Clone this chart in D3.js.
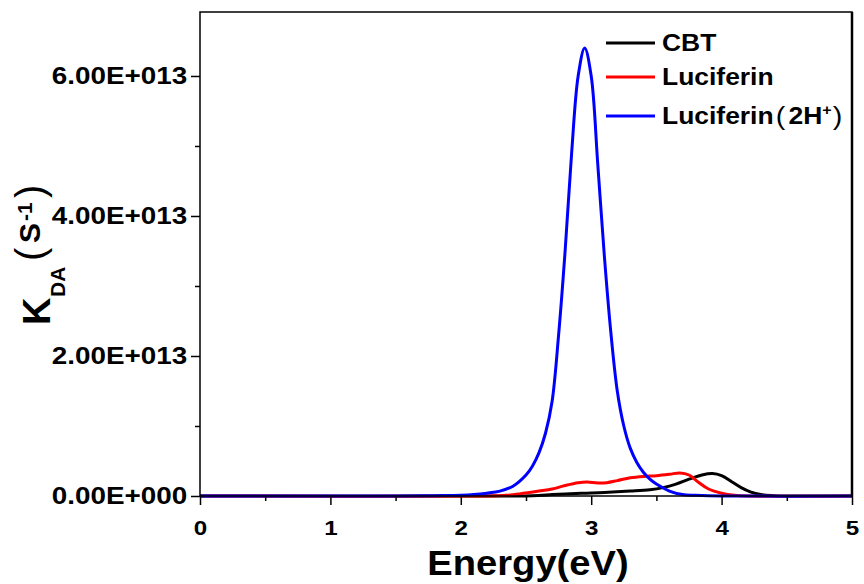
<!DOCTYPE html>
<html>
<head>
<meta charset="utf-8">
<script src="https://cdn.jsdelivr.net/npm/d3@7"></script>
<style>
  html, body { margin: 0; padding: 0; background: #fff; }
  svg { display: block; }
  text { font-family: "Liberation Sans", Arial, sans-serif; font-weight: bold; fill: #000; }
  .paren { font-weight: normal; }
</style>
</head>
<body>
<svg id="chart" width="864" height="584"></svg>
<script>
// Energy (eV) and transfer rate K_DA in units of 1e13 s^-1
const cbtE = [0, 2.4, 2.55, 2.7, 2.8, 2.94, 3.1, 3.3, 3.45, 3.55, 3.65, 3.75, 3.85, 3.93, 4.0, 4.08, 4.15, 4.22, 4.3, 4.4, 4.5, 5];
const cbtK = [0, 0, 0.005, 0.02, 0.03, 0.04, 0.05, 0.07, 0.09, 0.12, 0.17, 0.24, 0.3, 0.32, 0.29, 0.2, 0.12, 0.06, 0.02, 0.005, 0, 0];

const lucE = [0, 2.2, 2.35, 2.45, 2.6, 2.7, 2.8, 2.9, 2.97, 3.05, 3.12, 3.2, 3.3, 3.4, 3.5, 3.6, 3.68, 3.75, 3.82, 3.9, 4.0, 4.1, 4.2, 5];
const lucK = [0, 0, 0.01, 0.03, 0.07, 0.1, 0.15, 0.19, 0.2, 0.185, 0.19, 0.22, 0.26, 0.28, 0.29, 0.31, 0.33, 0.3, 0.2, 0.1, 0.04, 0.01, 0, 0];

const luc2hE = [0, 1.5, 1.8, 2.0, 2.1, 2.2, 2.3, 2.4, 2.5, 2.55, 2.6, 2.65, 2.7, 2.75, 2.8, 2.85, 2.9, 2.95, 3.0, 3.05, 3.1, 3.15, 3.2, 3.25, 3.3, 3.35, 3.4, 3.45, 3.5, 3.6, 3.7, 3.8, 4.0, 5];
const luc2hK = [0, 0, 0.005, 0.01, 0.02, 0.04, 0.07, 0.14, 0.3, 0.43, 0.62, 0.9, 1.35, 2.3, 3.5, 4.9, 6.0, 6.4, 6.0, 4.75, 3.45, 2.35, 1.5, 1.0, 0.68, 0.48, 0.34, 0.24, 0.17, 0.07, 0.02, 0.01, 0, 0];

const seriesNames = ["CBT", "Luciferin", "Luciferin (2H⁺)"];
const seriesColors = ["#000000", "#ff0000", "#0000ff"];

const xTicks = [0, 1, 2, 3, 4, 5];
const xMinorTicks = [0.5, 1.5, 2.5, 3.5, 4.5];
const yTicks = [0, 2, 4, 6];
const yMinorTicks = [1, 3, 5];
const yTickLabels = ["0.00E+000", "2.00E+013", "4.00E+013", "6.00E+013"];

const svg = d3.select("#chart");
const plotL = 200, plotR = 852, plotT = 12, plotB = 496;
const wide = 1.15; // horizontal stretch of the lettering

const x = d3.scaleLinear().domain([0, 5]).range([plotL, plotR]);
const y = d3.scaleLinear().domain([0, 6.914]).range([plotB, plotT]);

// Curves
const line = d3.line().x(d => x(d[0])).y(d => y(d[1])).curve(d3.curveCatmullRom.alpha(0.5));
const series = [
  d3.zip(cbtE, cbtK),
  d3.zip(lucE, lucK),
  d3.zip(luc2hE, luc2hK)
];
const plot = svg.append("g");
series.forEach((s, i) => {
  plot.append("path")
    .datum(s)
    .attr("d", line)
    .attr("fill", "none")
    .attr("stroke", seriesColors[i])
    .attr("stroke-width", 3)
    .attr("stroke-linejoin", "round");
});

// Frame
svg.append("rect")
  .attr("x", plotL).attr("y", plotT)
  .attr("width", plotR - plotL).attr("height", plotB - plotT)
  .attr("fill", "none").attr("stroke", "#000").attr("stroke-width", 1.5);
svg.append("line")
  .attr("x1", plotR).attr("x2", plotR).attr("y1", plotT).attr("y2", plotB)
  .attr("stroke", "#000").attr("stroke-width", 2.5);

// X axis
const xAxis = d3.axisBottom(x).tickValues(xTicks).tickSize(9).tickPadding(15).tickFormat(d3.format("d"));
const gx = svg.append("g").attr("transform", `translate(0,${plotB})`).call(xAxis);
gx.select(".domain").remove();
gx.selectAll(".tick line").attr("stroke-width", 1.5);
gx.selectAll(".tick text")
  .style("font-size", "21px").style("font-family", "'Liberation Sans', Arial, sans-serif").style("font-weight", "bold")
  .attr("transform", `scale(${wide},1)`);
const gxm = svg.append("g").attr("transform", `translate(0,${plotB})`)
  .call(d3.axisBottom(x).tickValues(xMinorTicks).tickSize(5).tickFormat(""));
gxm.select(".domain").remove();
gxm.selectAll(".tick line").attr("stroke-width", 1.5);

// Y axis
const yAxis = d3.axisLeft(y).tickValues(yTicks).tickSize(9).tickPadding(2)
  .tickFormat((d, i) => yTickLabels[i]);
const gy = svg.append("g").attr("transform", `translate(${plotL},0)`).call(yAxis);
gy.select(".domain").remove();
gy.selectAll(".tick line").attr("stroke-width", 1.5);
gy.selectAll(".tick text")
  .style("font-size", "24px").style("font-family", "'Liberation Sans', Arial, sans-serif").style("font-weight", "bold")
  .attr("transform", `scale(${wide + 0.01},1)`);
const gym = svg.append("g").attr("transform", `translate(${plotL},0)`)
  .call(d3.axisLeft(y).tickValues(yMinorTicks).tickSize(5).tickFormat(""));
gym.select(".domain").remove();
gym.selectAll(".tick line").attr("stroke-width", 1.5);

// X axis title
svg.append("g")
  .attr("transform", "translate(528,575) scale(1.09,1)")
  .append("text")
  .attr("text-anchor", "middle")
  .style("font-size", "35px")
  .text("Energy(eV)");

// Y axis title, reading upward from the K
const yTitle = svg.append("text")
  .attr("transform", "translate(50,325) rotate(-90)");
yTitle.append("tspan").attr("x", 0).attr("y", 0).style("font-size", "38px").text("K");
yTitle.append("tspan").attr("x", 28).attr("y", 15).style("font-size", "21px").text("DA");
yTitle.append("tspan").attr("class", "paren").attr("x", 64).attr("y", -6).style("font-size", "40px").text("(");
yTitle.append("tspan").attr("x", 82).attr("y", -10).style("font-size", "30px").text("S");
yTitle.append("tspan").attr("x", 104).attr("y", -18).style("font-size", "21px").text("-1");
yTitle.append("tspan").attr("class", "paren").attr("x", 127).attr("y", -6).style("font-size", "40px").text(")");

// Legend
const legendY = [43, 77, 116];
const legend = svg.append("g");
seriesNames.forEach((name, i) => {
  legend.append("line")
    .attr("x1", 606).attr("x2", 655)
    .attr("y1", legendY[i]).attr("y2", legendY[i])
    .attr("stroke", seriesColors[i]).attr("stroke-width", 3);
});
const legText = i => legend.append("g")
  .attr("transform", `translate(662,${legendY[i] + 7.5}) scale(${wide},1)`)
  .append("text").style("font-size", "23px");
legText(0).text(seriesNames[0]);
legText(1).text(seriesNames[1]);
// third entry set piece by piece so the charge sits as a superscript
const l3 = legText(2);
l3.append("tspan").attr("x", 0).text("Luciferin");
l3.append("tspan").attr("class", "paren").attr("x", 99).attr("dy", 1).style("font-size", "25px").text("(");
l3.append("tspan").attr("x", 110).attr("dy", -1).text("2H");
l3.append("tspan").attr("dy", -9).style("font-size", "14px").text("+");
l3.append("tspan").attr("class", "paren").attr("x", 148.5).attr("dy", 10).style("font-size", "25px").text(")");
</script>
</body>
</html>
